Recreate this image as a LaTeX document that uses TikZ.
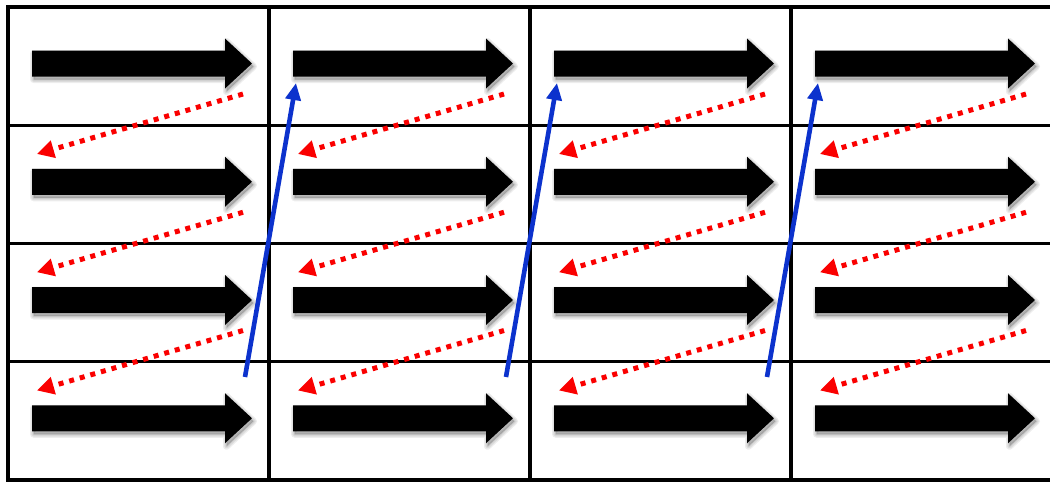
\documentclass[tikz,border=0pt]{standalone}
\usetikzlibrary{arrows.meta}
\definecolor{redarr}{RGB}{250,0,0}
\definecolor{bluearr}{RGB}{12,50,205}
\newcommand\arrowoutline{(24,-13) -- (217,-13) -- (217,-25) -- (244,0) -- (217,25) -- (217,13) -- (24,13) -- cycle}
\begin{document}
\begin{tikzpicture}[x=1pt,y=-1pt,
  gridline/.style={line width=3.2pt,black},
  shadowlayer/.style={draw=black,fill=black,line join=round,draw opacity=0.07,fill opacity=0.07},
  redlink/.style={redarr,line width=5pt,line cap=butt,dash pattern=on 5pt off 6pt,-{Triangle[length=17pt,width=17pt]}},
  bluelink/.style={bluearr,line width=4.6pt,-{Triangle[length=17pt,width=15pt]}}]
\useasboundingbox (0,0) rectangle (1050,483);
\fill[white] (0,0) rectangle (1050,483);
% black arrows with soft shadows
\foreach \c in {0,...,3}{
  \foreach \r in {0,...,3}{
    \pgfmathsetmacro\xo{8+261*\c}
    \pgfmathsetmacro\ym{7+118.25*\r+56.5}
    \begin{scope}[shift={(\xo+1.5,\ym+3)}]
      \path[shadowlayer,line width=7pt] \arrowoutline;
      \path[shadowlayer,line width=4.5pt] \arrowoutline;
      \path[shadowlayer,line width=2pt] \arrowoutline;
    \end{scope}
    \begin{scope}[shift={(\xo,\ym)}]
      \fill[black] \arrowoutline;
    \end{scope}
  }
}
% grid
\foreach \r in {0,...,4}{
  \pgfmathsetmacro\yy{7+118.25*\r}
  \draw[gridline] (6.4,\yy) -- (1060,\yy);
}
\foreach \c in {0,...,4}{
  \pgfmathsetmacro\xx{8+261*\c}
  \draw[gridline] (\xx,5.4) -- (\xx,481.6);
}
% red dotted arrows
\foreach \c in {0,...,3}{
  \foreach \r in {0,...,2}{
    \pgfmathsetmacro\xo{8+261*\c}
    \pgfmathsetmacro\yo{7+118.25*\r}
    \coordinate (rs-\c-\r) at (\xo+235,\yo+87);
    \coordinate (re-\c-\r) at (\xo+29,\yo+147);
    \draw[redlink] (rs-\c-\r) -- (re-\c-\r);
  }
}
% blue arrows
\foreach \c in {0,...,2}{
  \pgfmathsetmacro\xo{8+261*\c}
  \coordinate (bs-\c) at (\xo+237,377);
  \coordinate (be-\c) at (\xo+261+27,83);
  \draw[bluelink] (bs-\c) -- (be-\c);
}
\end{tikzpicture}
\end{document}
